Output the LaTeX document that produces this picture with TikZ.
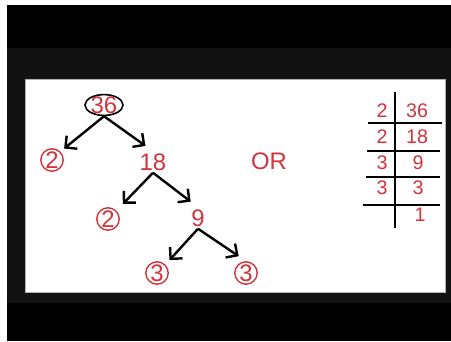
\documentclass[tikz,border=0pt]{standalone}
\usepackage{fontspec}
\setmainfont{Liberation Sans}
\usetikzlibrary{shapes.geometric,arrows.meta}
\definecolor{factred}{RGB}{208,52,62}
\definecolor{framegray}{RGB}{18,18,18}

\begin{document}
\begin{tikzpicture}[x=0.025cm,y=-0.025cm,
	num/.style={text=factred,font=\fontsize{17}{17}\selectfont,inner sep=0.5mm},
	prime/.style={num,circle,draw=factred,line width=0.35mm,minimum size=5.6mm,inner sep=0pt},
	tab/.style={text=factred,font=\fontsize{14}{14}\selectfont,inner sep=0pt},
	arr/.style={line width=0.6mm,-{Straight Barb[length=2.1mm,width=4.2mm]}},
	rule/.style={line width=0.5mm}]
	\useasboundingbox (0,0) rectangle (451,341);
	\fill[white] (0,0) rectangle (451,341);
	\fill[black] (7,5) rectangle (451,341);
	\fill[framegray] (7,48) rectangle (451,303);
	\fill[white,draw=gray!60] (25,79) rectangle (445,292);

	\node[num,ellipse,draw=black,line width=0.4mm,minimum width=9.5mm,minimum height=5.2mm,inner sep=-0.6mm] (n36) at (104,105) {36};
	\node[prime] (f2a) at (52,160) {2};
	\node[num] (n18) at (153,162) {18};
	\node[prime] (f2b) at (108,219) {2};
	\node[num] (n9) at (198,218) {9};
	\node[prime] (f3a) at (157,273) {3};
	\node[prime] (f3b) at (246,273) {3};
	\node[num] (or) at (269,161) {OR};

	\draw[arr,shorten >=1.2mm] (n36.south) -- (f2a.north east);
	\draw[arr,shorten >=2.3mm] (n36.south) -- (n18.north);
	\draw[arr,shorten >=2.3mm] (n18.south) -- (f2b.north east);
	\draw[arr,shorten >=2.3mm] (n18.south) -- (n9.north);
	\draw[arr,shorten >=1.5mm] (n9.south) -- (f3a.north east);
	\draw[arr,shorten >=2.2mm] (n9.south) -- (f3b.north);

	\draw[rule] (395,92) -- (395,228);
	\draw[rule] (368,122.7) -- (442,122.7);
	\draw[rule] (367,150.7) -- (440,150.7);
	\draw[rule] (366,177) -- (440,177);
	\draw[rule] (363,205) -- (440,205);
	\node[tab] (p1) at (382,111) {2};
	\node[tab] (q1) at (417,111) {36};
	\node[tab] (p2) at (382,137) {2};
	\node[tab] (q2) at (417,137) {18};
	\node[tab] (p3) at (382,163) {3};
	\node[tab] (q3) at (418,163) {9};
	\node[tab] (p4) at (382,188) {3};
	\node[tab] (q4) at (418,188) {3};
	\node[tab] (q5) at (420,215) {1};
\end{tikzpicture}
\end{document}
